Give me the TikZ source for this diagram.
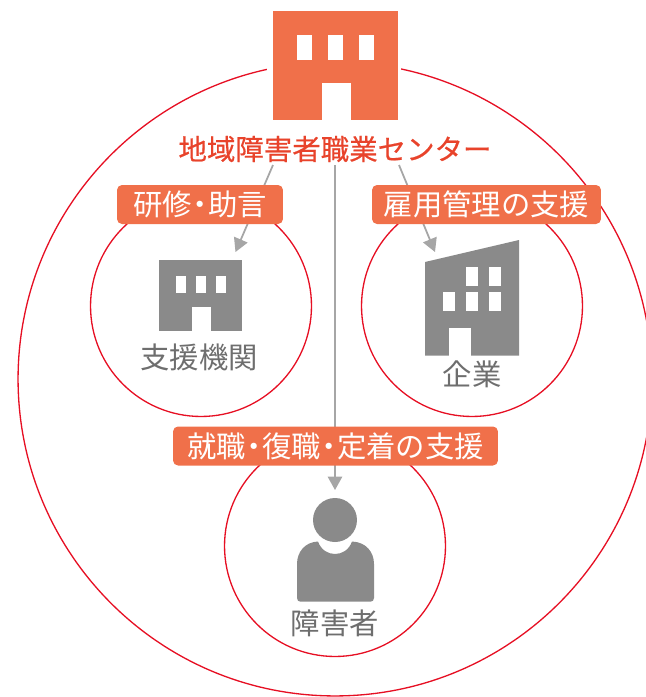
\documentclass[tikz,border=0pt]{standalone}
\usepackage{xcolor}
\usepackage{fontspec}
\usetikzlibrary{arrows.meta}
\setmainfont{Noto Sans CJK JP}
\newfontfamily\titlefont[FakeBold=0.5]{Noto Sans CJK JP}
\definecolor{ringred}{HTML}{E60F23}
\definecolor{tagorange}{HTML}{F0704A}
\definecolor{titlered}{HTML}{E8432B}
\definecolor{icongray}{HTML}{8A8A8A}
\definecolor{flowgray}{HTML}{A6A6A6}
\definecolor{labelgray}{HTML}{6E6E6E}
\newcommand{\middot}{\hspace{-0.22em}・\hspace{-0.22em}}
\tikzset{
    ring/.style={draw=ringred, line width=0.75pt, circle, inner sep=0pt, outer sep=0pt},
    tagbox/.style={fill=tagorange, text=white, rounded corners=0.1cm, inner sep=0pt, outer sep=0pt,
        minimum height=0.78cm, font=\fontsize{16.7}{18}\selectfont},
    iconlabel/.style={text=labelgray, inner sep=0pt, font=\fontsize{16.7}{18}\selectfont},
    block/.style={fill=icongray, inner sep=0pt, outer sep=0pt},
    flow/.style={draw=flowgray, line width=1pt, -{Triangle[length=0.27cm,width=0.29cm]}}
}

\begin{document}
\begin{tikzpicture}[x=0.02cm, y=-0.02cm]
    \useasboundingbox (0,0) rectangle (646,697);
    \clip (0,0) rectangle (646,697);

    % Rings
    \node[ring, minimum size=12.68cm] (region) at (335,379) {};
    \node[ring, minimum size=4.42cm] (agencyring) at (201,306) {};
    \node[ring, minimum size=4.42cm] (companyring) at (472,306) {};
    \node[ring, minimum size=4.42cm] (personring) at (335,546) {};

    % Center building
    \fill[white] (267,11) rectangle (401,120);
    \node[block, fill=tagorange, minimum width=2.5cm, minimum height=2.18cm] (center) at (335.5,65.5) {};
    \fill[white] (297,35) rectangle (312,60);
    \fill[white] (328,35) rectangle (343,60);
    \fill[white] (359,35) rectangle (374,60);
    \fill[white] (322,83) rectangle (351,120.5);
    \node[text=titlered, inner sep=0pt, minimum height=0.64cm, font=\fontsize{16.2}{18}\titlefont] (title) at (335,149) {地域障害者職業センター};

    % Support agency
    \node[block, minimum width=1.66cm, minimum height=1.43cm] (agency) at (200.5,295.75) {};
    \fill[white] (176,276) rectangle (186,292.5);
    \fill[white] (196,276) rectangle (206,292.5);
    \fill[white] (216,276) rectangle (226,292.5);
    \fill[white] (192,307) rectangle (211,332);
    \node[iconlabel] (agencylabel) at (199,357) {支援機関};

    % Company
    \fill[icongray] (425,262) -- (519,240) -- (519,355.5) -- (425,355.5) -- cycle;
    \fill[white] (466,267) rectangle (478,286);
    \fill[white] (489,267) rectangle (501,286);
    \fill[white] (443,292) rectangle (455,311);
    \fill[white] (466,292) rectangle (478,311);
    \fill[white] (489,292) rectangle (501,311);
    \fill[white] (449,328) rectangle (471,356);
    \node[iconlabel] (companylabel) at (472,374) {企業};

    % Person
    \node[block, circle, minimum size=0.88cm] (head) at (335,520) {};
    \fill[icongray] (318,541.5) .. controls (321,550) and (328,554) .. (335,554)
        .. controls (342,554) and (349,550) .. (352,541.5)
        .. controls (366,542) and (374,552) .. (374,564) -- (374,598)
        .. controls (374,600.5) and (372.5,601.5) .. (371,601.5) -- (300,601.5)
        .. controls (298.5,601.5) and (297,600.5) .. (297,598) -- (297,564)
        .. controls (297,552) and (305,542) .. (318,541.5) -- cycle;
    \node[iconlabel] (personlabel) at (335,623) {障害者};

    % Connections
    \coordinate (leftstart) at (273,165);
    \coordinate (leftend) at (235.5,252);
    \coordinate (rightstart) at (399,165);
    \coordinate (rightend) at (435,252);
    \draw[flow] (leftstart) -- (leftend);
    \draw[flow] (rightstart) -- (rightend);
    \draw[flow, shorten >=0.16cm] (title.south) -- (head.north);

    % Tags
    \node[tagbox, minimum width=3.32cm] (trainingtag) at (200,204.5) {研修\middot 助言};
    \node[tagbox, minimum width=4.58cm] (employertag) at (486.5,204.5) {雇用管理の支援};
    \node[tagbox, minimum width=6.5cm] (jobtag) at (335.5,446) {就職\middot 復職\middot 定着の支援};
\end{tikzpicture}
\end{document}
